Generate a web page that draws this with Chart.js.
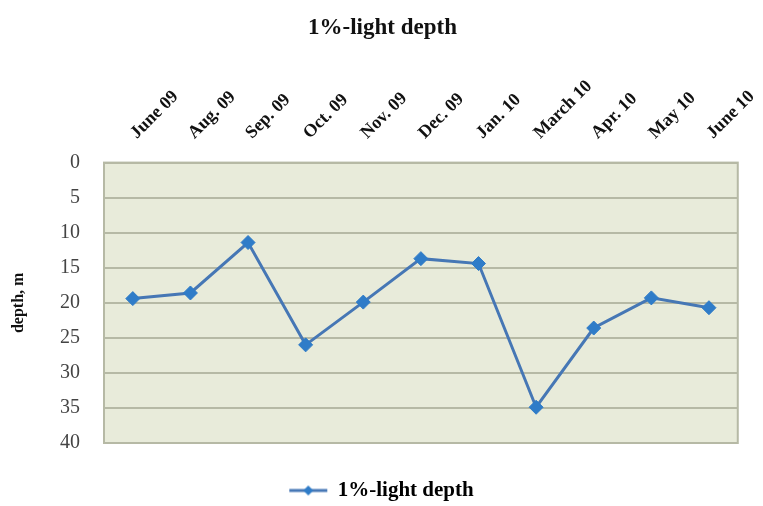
<!DOCTYPE html>
<html>
<head>
<meta charset="utf-8">
<script src="https://cdn.jsdelivr.net/npm/chart.js@4.4.1/dist/chart.umd.min.js"></script>
<style>
  html, body { margin: 0; padding: 0; background: #ffffff; }
  #wrap { width: 763px; height: 506px; }
</style>
</head>
<body>
<div id="wrap"><canvas id="c" width="763" height="506"></canvas></div>
<script>
// Sampling months and the depth (m) at which 1% of surface light remains
const months = ["June 09", "Aug. 09", "Sep. 09", "Oct. 09", "Nov. 09", "Dec. 09",
                "Jan. 10", "March 10", "Apr. 10", "May 10", "June 10"];
const lightDepth = [19.4, 18.6, 11.4, 26.0, 19.9, 13.7, 14.4, 34.9, 23.6, 19.3, 20.7];
const depthTicks = [0, 5, 10, 15, 20, 25, 30, 35, 40];

const SERIF = "'Liberation Serif', 'DejaVu Serif', serif";
const LINE_COLOR = "#4677b5";
const MARK_COLOR = "#2f7cc8";

// Legend symbol: a short line segment with a diamond in the middle
function legendSymbol() {
  const cv = document.createElement("canvas");
  cv.width = 44; cv.height = 14;
  const g = cv.getContext("2d");
  g.strokeStyle = LINE_COLOR; g.lineWidth = 3;
  g.beginPath(); g.moveTo(2, 7); g.lineTo(40, 7); g.stroke();
  g.fillStyle = MARK_COLOR;
  g.beginPath(); g.moveTo(21, 2); g.lineTo(26, 7); g.lineTo(21, 12); g.lineTo(16, 7); g.closePath(); g.fill();
  return cv;
}

// Shaded plot area with a thin frame
const plotFrame = {
  id: "plotFrame",
  beforeDraw(chart) {
    const { ctx, chartArea: a } = chart;
    ctx.save();
    ctx.fillStyle = "#e8ebda";
    ctx.fillRect(a.left, a.top, a.right - a.left, a.bottom - a.top);
    ctx.restore();
  },
  beforeDatasetsDraw(chart) {
    const { ctx, chartArea: a } = chart;
    ctx.save();
    ctx.strokeStyle = "#b6b9a5";
    ctx.lineWidth = 2;
    ctx.strokeRect(a.left, a.top, a.right - a.left, a.bottom - a.top);
    ctx.restore();
  }
};

new Chart(document.getElementById("c"), {
  type: "line",
  data: {
    labels: months,
    datasets: [{
      label: "1%-light depth",
      data: lightDepth,
      borderColor: LINE_COLOR,
      backgroundColor: MARK_COLOR,
      borderWidth: 3,
      pointStyle: "rectRot",
      pointRadius: 7,
      pointHoverRadius: 7,
      pointBackgroundColor: MARK_COLOR,
      pointBorderColor: MARK_COLOR,
      pointBorderWidth: 1,
      tension: 0,
      fill: false
    }]
  },
  options: {
    responsive: false,
    animation: false,
    devicePixelRatio: 1,
    layout: { padding: { top: 0, left: 23, right: 21, bottom: 0 } },
    plugins: {
      title: {
        display: true,
        text: "1%-light depth",
        color: "#111",
        font: { family: SERIF, size: 23, weight: "bold" },
        padding: { top: 14, bottom: 6 }
      },
      legend: {
        display: true,
        position: "bottom",
        maxHeight: 63,
        labels: {
          color: "#111",
          font: { family: SERIF, size: 21, weight: "bold" },
          usePointStyle: true,
          pointStyleWidth: 36,
          generateLabels: (chart) => [{
            text: chart.data.datasets[0].label,
            pointStyle: legendSymbol(),
            fillStyle: MARK_COLOR,
            strokeStyle: LINE_COLOR,
            lineWidth: 0,
            datasetIndex: 0,
            hidden: false
          }],
          padding: 37
        }
      },
      tooltip: { enabled: false }
    },
    scales: {
      x: {
        position: "top",
        offset: true,
        grid: { display: false },
        border: { display: false },
        ticks: {
          color: "#111",
          font: { family: SERIF, size: 18, weight: "bold" },
          minRotation: 45,
          maxRotation: 45,
          padding: 11,
          labelOffset: 16,
          autoSkip: false
        },
        afterFit: (s) => { s.height = 115; }
      },
      y: {
        reverse: true,
        min: 0,
        max: 40,
        afterBuildTicks: (s) => { s.ticks = depthTicks.map(v => ({ value: v })); },
        grid: { color: "#b6b9a5", lineWidth: 2, drawTicks: false },
        border: { display: false },
        ticks: {
          color: "#444",
          font: { family: SERIF, size: 20 },
          padding: 24
        },
        title: {
          display: true,
          text: "depth, m",
          color: "#111",
          font: { family: SERIF, size: 16, weight: "bold" },
          padding: { top: -14, bottom: 0 }
        },
        afterFit: (s) => { s.width = 81; }
      }
    }
  },
  plugins: [plotFrame]
});
</script>
</body>
</html>
